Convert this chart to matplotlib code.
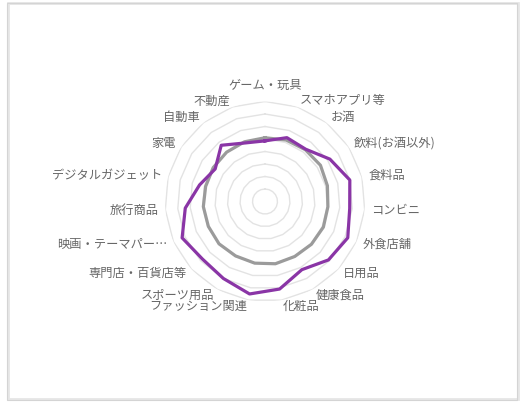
import numpy as np
import matplotlib

matplotlib.use("Agg")
import matplotlib.pyplot as plt
from matplotlib.patches import Rectangle

plt.rcParams["font.family"] = ["Noto Sans CJK JP", "DejaVu Sans"]

# -----------------------------
# Data
# -----------------------------
categories = [
    "ゲーム・玩具", "スマホアプリ等", "お酒", "飲料(お酒以外)", "食料品",
    "コンビニ", "外食店舗", "日用品", "健康食品", "化粧品",
    "ファッション関連", "スポーツ用品", "専門店・百貨店等", "映画・テーマパー…",
    "旅行商品", "デジタルガジェット", "家電", "自動車", "不動産",
]

purple_values = [4.85, 5.4, 5.3, 6.2, 7.0, 6.8, 7.23, 6.9, 6.2, 7.1,
                 7.5, 7.0, 6.8, 7.24, 6.4, 5.4, 4.76, 5.7, 4.95]

gray_values = [5.1, 5.2, 5.25, 5.3, 5.15, 5.05, 5.1, 5.05, 5.0, 5.05,
               5.0, 4.95, 5.0, 4.95, 4.95, 4.9, 4.95, 5.0, 5.05]

ring_levels = [1, 2, 3, 4, 5, 6, 7, 8]
r_max = 8

# -----------------------------
# Figure
# -----------------------------
W, H = 529, 403
fig = plt.figure(figsize=(W / 100, H / 100), dpi=100)

# outer frame
fig.patches.append(Rectangle((8 / W, 4 / H), 510 / W, 396 / H,
                             transform=fig.transFigure, fill=False,
                             edgecolor="#e6e6e6", linewidth=2.0, zorder=0))
fig.patches.append(Rectangle((7 / W, 3 / H), 510 / W, 397 / H,
                             transform=fig.transFigure, fill=False,
                             edgecolor="#d4d4d4", linewidth=0.8, zorder=1))

cx, cy, R = 265, 201.5, 100
ax = fig.add_axes([(cx - R) / W, (H - cy - R) / H, 2 * R / W, 2 * R / H],
                  projection="polar")
ax.set_theta_zero_location("N")
ax.set_theta_direction(-1)
ax.set_ylim(0, r_max)
ax.grid(False)
ax.set_xticks([])
ax.set_yticks([])
ax.spines["polar"].set_visible(False)
ax.patch.set_alpha(0)

n = len(categories)
angles = np.linspace(0, 2 * np.pi, n, endpoint=False)
closed = np.append(angles, angles[0])

# polygon grid rings
for lvl in ring_levels:
    ax.plot(closed, [lvl] * (n + 1), color="#e3e3e3", linewidth=1.0, zorder=1)

# series
ax.plot(closed, gray_values + gray_values[:1], color="#9b9b9b",
        linewidth=2.3, zorder=3)
ax.plot(closed, purple_values + purple_values[:1], color="#8a35a6",
        linewidth=2.3, zorder=4)

# point labels
for ang, lab in zip(angles, categories):
    s = np.sin(ang)
    if abs(s) < 1e-6:
        ax.text(ang, r_max * 1.1, lab, ha="center", va="bottom",
                fontsize=8.8, color="#666666")
        continue
    ha = "left" if s > 0 else "right"
    ax.text(ang, r_max * 1.065, lab, ha=ha, va="center",
            fontsize=8.8, color="#666666")

fig.savefig("out.png", dpi=100)
